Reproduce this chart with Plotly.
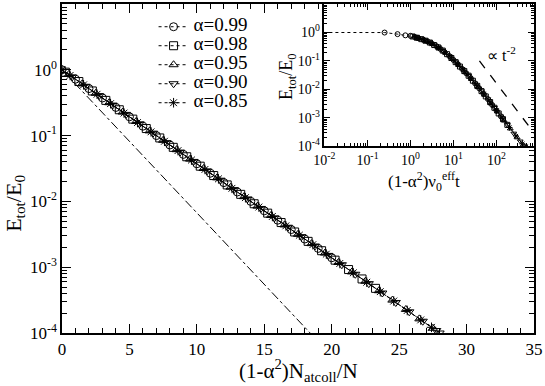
import plotly.graph_objects as go

# main panel: (1-a^2) N_atcoll / N  vs  E_tot/E_0
alpha_labels = ["α=0.99", "α=0.98", "α=0.95", "α=0.90", "α=0.85"]
symbols = ["circle-open", "square-open", "triangle-up-open", "triangle-down-open", "asterisk-open"]

x_099 = [0, 1, 2, 3, 4, 5, 6, 7, 8, 9, 10, 11, 12, 13, 14, 15, 16, 17, 18, 19, 20]
y_099 = [1.0, 0.72, 0.518, 0.373, 0.268, 0.193, 0.139, 0.100, 0.072, 0.0518, 0.0373,
         0.0268, 0.0193, 0.0139, 0.0100, 7.2e-3, 5.18e-3, 3.73e-3, 2.68e-3, 1.93e-3, 1.39e-3]

x_098 = [0.25, 1.25, 2.25, 3.25, 4.25, 5.25, 6.25, 7.25, 8.25, 9.25, 10.25, 11.25,
         12.25, 13.25, 14.25, 15.25, 16.25, 17.25, 18.25, 19.25, 20.25, 21.25, 22.25, 23.25]
y_098 = [0.921, 0.663, 0.477, 0.343, 0.247, 0.178, 0.128, 0.0921, 0.0663, 0.0477, 0.0343,
         0.0247, 0.0178, 0.0128, 9.21e-3, 6.63e-3, 4.77e-3, 3.43e-3, 2.47e-3, 1.78e-3,
         1.28e-3, 9.21e-4, 6.63e-4, 4.77e-4]

x_095 = [0.5, 1.5, 2.5, 3.5, 4.5, 5.5, 6.5, 7.5, 8.5, 9.5, 10.5, 11.5, 12.5, 13.5, 14.5,
         15.5, 16.5, 17.5, 18.5, 19.5, 20.5, 21.5, 22.5, 23.5, 24.5, 25.5, 26.5, 27.5]
y_095 = [0.848, 0.611, 0.439, 0.316, 0.228, 0.164, 0.118, 0.0848, 0.0611, 0.0439, 0.0316,
         0.0228, 0.0164, 0.0118, 8.48e-3, 6.11e-3, 4.39e-3, 3.16e-3, 2.28e-3, 1.64e-3,
         1.18e-3, 8.48e-4, 6.11e-4, 4.39e-4, 3.16e-4, 2.28e-4, 1.64e-4, 1.18e-4]

x_090 = [0.75, 1.75, 2.75, 3.75, 4.75, 5.75, 6.75, 7.75, 8.75, 9.75, 10.75, 11.75, 12.75,
         13.75, 14.75, 15.75, 16.75, 17.75, 18.75, 19.75, 20.75, 21.75, 22.75, 23.75,
         24.75, 25.75, 26.75, 27.75, 28.0]
y_090 = [0.781, 0.562, 0.405, 0.291, 0.210, 0.151, 0.109, 0.0781, 0.0562, 0.0405, 0.0291,
         0.0210, 0.0151, 0.0109, 7.81e-3, 5.62e-3, 4.05e-3, 2.91e-3, 2.10e-3, 1.51e-3,
         1.09e-3, 7.81e-4, 5.62e-4, 4.05e-4, 2.91e-4, 2.10e-4, 1.51e-4, 1.09e-4, 1.0e-4]

x_085 = [0, 0.6, 1.6, 2.6, 3.6, 4.6, 5.6, 6.6, 7.6, 8.6, 9.6, 10.6, 11.6, 12.6, 13.6,
         14.6, 15.6, 16.6, 17.6, 18.6, 19.6, 20.6, 21.6, 22.6, 23.6, 24.6, 25.6, 26.6, 27.4]
y_085 = [1.0, 0.821, 0.591, 0.425, 0.306, 0.220, 0.158, 0.114, 0.0821, 0.0591, 0.0425,
         0.0306, 0.0220, 0.0158, 0.0114, 8.21e-3, 5.91e-3, 4.25e-3, 3.06e-3, 2.20e-3,
         1.58e-3, 1.14e-3, 8.21e-4, 5.91e-4, 4.25e-4, 3.06e-4, 2.20e-4, 1.58e-4, 1.22e-4]

# dash-dot reference line in main panel
ref_x = [0, 18.4]
ref_y = [1.0, 1.0e-4]

# inset: (1-a^2) nu_0^eff t  vs  E_tot/E_0 (log-log)
t_099 = [0.001, 0.25, 0.5, 0.76, 1.0, 1.26, 1.51, 2.0, 2.51, 3.02, 3.98, 5.01, 6.03, 7.94,
         10.0, 12.6, 15.8, 20.0, 25.1, 31.6, 39.8, 50.1, 63.1, 79.4, 100, 126]
e_099 = [1.0, 0.99, 0.87, 0.79, 0.76, 0.69, 0.63, 0.55, 0.48, 0.42, 0.33, 0.26, 0.21, 0.148,
         0.107, 0.076, 0.052, 0.036, 0.0245, 0.0162, 0.0107, 6.9e-3, 4.5e-3, 2.8e-3,
         1.78e-3, 1.12e-3]

t_098 = [1.12, 1.41, 1.78, 2.24, 2.82, 3.55, 4.47, 5.62, 7.08, 8.91, 11.2, 14.1, 17.8,
         22.4, 28.2, 35.5, 44.7, 56.2, 70.8, 89.1, 112, 141, 178]
e_098 = [0.72, 0.65, 0.58, 0.51, 0.44, 0.36, 0.295, 0.23, 0.172, 0.126, 0.090, 0.063,
         0.0437, 0.030, 0.020, 0.0132, 8.6e-3, 5.6e-3, 3.55e-3, 2.24e-3, 1.41e-3, 8.9e-4,
         5.6e-4]

t_095 = [1.20, 1.66, 2.40, 3.31, 4.79, 6.61, 9.55, 13.2, 19.1, 26.3, 38.0, 52.5, 75.9,
         105, 151, 209, 302, 417]
e_095 = [0.71, 0.60, 0.49, 0.385, 0.275, 0.188, 0.115, 0.071, 0.039, 0.0226, 0.0116,
         6.3e-3, 3.1e-3, 1.62e-3, 7.8e-4, 4.1e-4, 2.0e-4, 1.1e-4]

t_090 = [1.32, 1.91, 2.82, 3.98, 5.62, 7.94, 11.2, 15.8, 22.4, 31.6, 44.7, 63.1, 89.1,
         126, 178, 251, 355, 457]
e_090 = [0.68, 0.56, 0.44, 0.33, 0.23, 0.148, 0.090, 0.052, 0.030, 0.0162, 8.6e-3,
         4.5e-3, 2.24e-3, 1.12e-3, 5.6e-4, 2.8e-4, 1.48e-4, 1.0e-4]

t_085 = [1.41, 2.09, 3.16, 4.47, 6.31, 8.91, 12.6, 17.8, 25.1, 35.5, 50.1, 70.8, 100,
         141, 200, 282, 398]
e_085 = [0.65, 0.54, 0.40, 0.295, 0.20, 0.126, 0.076, 0.0437, 0.0245, 0.0132, 6.9e-3,
         3.55e-3, 1.78e-3, 8.9e-4, 4.5e-4, 2.26e-4, 1.2e-4]

# t^-2 guide line in inset
guide_t = [40, 750]
guide_e = [0.1, 2.85e-4]

main_x = [x_099, x_098, x_095, x_090, x_085]
main_y = [y_099, y_098, y_095, y_090, y_085]
inset_t = [t_099, t_098, t_095, t_090, t_085]
inset_e = [e_099, e_098, e_095, e_090, e_085]

log_tickvals = [1e-4, 1e-3, 1e-2, 1e-1, 1e0]
log_ticktext = ["10<sup>-4</sup>", "10<sup>-3</sup>", "10<sup>-2</sup>", "10<sup>-1</sup>", "10<sup>0</sup>"]
inset_xvals = [1e-2, 1e-1, 1e0, 1e1, 1e2]
inset_xtext = ["10<sup>-2</sup>", "10<sup>-1</sup>", "10<sup>0</sup>", "10<sup>1</sup>", "10<sup>2</sup>"]

FONT = "Liberation Serif"

fig = go.Figure()

for i in range(5):
    # legend spacing is tied to the legend font size, so the text is enlarged via a span
    fig.add_trace(go.Scatter(
        x=main_x[i], y=main_y[i], mode="lines+markers",
        name=f"<span style='font-family:Liberation Serif;font-size:19px'>{alpha_labels[i]}</span>",
        line=dict(color="black", width=1, dash="dot"),
        marker=dict(symbol=symbols[i], size=8, color="black", line=dict(width=1, color="black")),
        xaxis="x", yaxis="y",
    ))

fig.add_trace(go.Scatter(
    x=ref_x, y=ref_y, mode="lines", showlegend=False,
    line=dict(color="black", width=1, dash="dashdot"), xaxis="x", yaxis="y",
))

for i in range(5):
    fig.add_trace(go.Scatter(
        x=inset_t[i], y=inset_e[i], mode="lines+markers", showlegend=False,
        line=dict(color="black", width=1, dash="dot"),
        marker=dict(symbol=symbols[i], size=5, color="black", line=dict(width=1, color="black")),
        xaxis="x2", yaxis="y2",
    ))

fig.add_trace(go.Scatter(
    x=guide_t, y=guide_e, mode="lines", showlegend=False,
    line=dict(color="black", width=1.3, dash="dash"), xaxis="x2", yaxis="y2",
))

axis_common = dict(
    showline=True, linecolor="black", linewidth=1.5, mirror="allticks",
    ticks="inside", tickcolor="black", showgrid=False, zeroline=False,
)

fig.update_layout(
    width=545, height=386,
    margin=dict(l=62, r=9, t=2, b=53),
    paper_bgcolor="white", plot_bgcolor="white",
    font=dict(family=FONT, color="black", size=16),
    xaxis=dict(
        domain=[0, 1], range=[0, 35], tickvals=[0, 5, 10, 15, 20, 25, 30, 35],
        ticklen=9, tickwidth=1, tickfont=dict(size=17),
        minor=dict(ticks="inside", dtick=1, ticklen=5, tickcolor="black", tickwidth=1),
        **axis_common,
    ),
    yaxis=dict(
        domain=[0, 1], type="log", range=[-4, 1],
        tickvals=log_tickvals, ticktext=log_ticktext,
        ticklen=9, tickwidth=1, tickfont=dict(size=17),
        minor=dict(ticks="inside", dtick="D1", ticklen=5, tickcolor="black", tickwidth=1),
        **axis_common,
    ),
    xaxis2=dict(
        domain=[0.556, 1], anchor="y2", type="log", range=[-2, 2.87],
        tickvals=inset_xvals, ticktext=inset_xtext,
        ticklen=6, tickwidth=1, tickfont=dict(size=14),
        minor=dict(ticks="inside", dtick="D1", ticklen=3, tickcolor="black", tickwidth=1),
        **axis_common,
    ),
    yaxis2=dict(
        domain=[0.568, 1], anchor="x2", type="log", range=[-4, 1],
        tickvals=log_tickvals, ticktext=log_ticktext,
        ticklen=6, tickwidth=1, tickfont=dict(size=14),
        minor=dict(ticks="inside", dtick="D1", ticklen=3, tickcolor="black", tickwidth=1),
        **axis_common,
    ),
    legend=dict(
        x=0.194, y=0.975, xanchor="left", yanchor="top",
        bgcolor="rgba(0,0,0,0)", font=dict(size=11, family=FONT),
        tracegroupgap=0, itemwidth=30,
    ),
    annotations=[
        dict(text="(1-α<sup>2</sup>)N<sub>atcoll</sub>/N", xref="paper", yref="paper",
             x=0.5, y=-0.115, xanchor="center", yanchor="middle", showarrow=False,
             font=dict(size=21)),
        dict(text="E<sub>tot</sub>/E<sub>0</sub>", xref="paper", yref="paper",
             x=-0.1, y=0.395, xanchor="center", yanchor="middle", textangle=-90,
             showarrow=False, font=dict(size=22)),
        dict(text="(1-α<sup>2</sup>)ν<sub>0</sub><sup>eff</sup>t", xref="paper", yref="paper",
             x=0.766, y=0.462, xanchor="center", yanchor="middle", showarrow=False,
             font=dict(size=17)),
        dict(text="E<sub>tot</sub>/E<sub>0</sub>", xref="paper", yref="paper",
             x=0.478, y=0.78, xanchor="center", yanchor="middle", textangle=-90,
             showarrow=False, font=dict(size=18)),
        dict(text="∝ t<sup>-2</sup>", xref="x2", yref="y2",
             x=2.12, y=-0.75, xanchor="center", yanchor="middle", showarrow=False,
             font=dict(size=16)),
    ],
)

fig.write_html("out.html", config={"displayModeBar": False},
               post_script="document.body.style.margin='0';")
